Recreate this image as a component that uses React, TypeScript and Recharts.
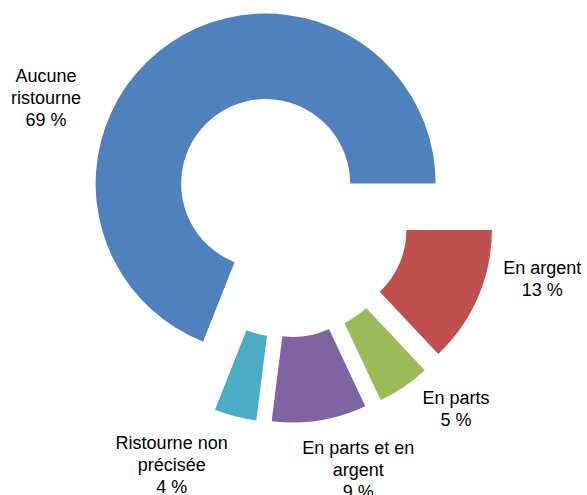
import React from "react";
import { PieChart, Pie, Cell, Sector } from "recharts";

const categories = [
  "Aucune ristourne",
  "En argent",
  "En parts",
  "En parts et en argent",
  "Ristourne non précisée",
];
const values = [69, 13, 5, 9, 4];
const valueLabels = ["69 %", "13 %", "5 %", "9 %", "4 %"];
const nameLines = [
  ["Aucune", "ristourne"],
  ["En argent"],
  ["En parts"],
  ["En parts et en", "argent"],
  ["Ristourne non", "précisée"],
];
const colors = ["#4F81BD", "#C0504D", "#9BBB59", "#8064A2", "#4BACC6"];

// label placement tweaks (style, not data)
const labelAngleShift = [29.8, 9.4, 6.9, 6.6, -10.4];
const labelRadius = [268, 263, 257, 265, 275];

const data = categories.map((name, i) => ({ name, value: values[i] }));
const total = values.reduce((a, b) => a + b, 0);
const startAngle = (values[0] / total) * 360;
const endAngle = startAngle - 360;

const RAD = Math.PI / 180;
const EXPLODE = 38;

const ExplodedSector = (props: any) => {
  const { cx, cy, midAngle } = props;
  const dx = EXPLODE * Math.cos(-midAngle * RAD);
  const dy = EXPLODE * Math.sin(-midAngle * RAD);
  return <Sector {...props} cx={cx + dx} cy={cy + dy} stroke="none" />;
};

const renderLabel = (props: any) => {
  const { cx, cy, midAngle, index } = props;
  const a = (midAngle + labelAngleShift[index]) * RAD;
  const r = labelRadius[index];
  const x = cx + r * Math.cos(-a);
  const y = cy + r * Math.sin(-a);
  const lines = [...nameLines[index], valueLabels[index]];
  const lh = 22;
  return (
    <text
      x={x}
      y={y}
      textAnchor="middle"
      fill="#000"
      fontSize={18}
      fontFamily="'Liberation Sans', Arial, Helvetica, sans-serif"
    >
      {lines.map((l, i) => (
        <tspan
          key={i}
          x={x}
          y={y + (i - (lines.length - 1) / 2) * lh}
          dominantBaseline="central"
        >
          {l}
        </tspan>
      ))}
    </text>
  );
};

export default function App() {
  return (
    <div style={{ position: "absolute", left: 0, top: 0, width: 587, height: 495, background: "#fff" }}>
      <PieChart width={587} height={495} margin={{ top: 0, right: 0, bottom: 0, left: 0 }}>
        <Pie
          data={data}
          dataKey="value"
          nameKey="name"
          cx={287}
          cy={215}
          innerRadius={84.5}
          outerRadius={170}
          startAngle={startAngle}
          endAngle={endAngle}
          stroke="none"
          isAnimationActive={false}
          labelLine={false}
          label={renderLabel}
          shape={ExplodedSector}
        >
          {data.map((d, i) => (
            <Cell key={d.name} fill={colors[i]} />
          ))}
        </Pie>
      </PieChart>
    </div>
  );
}
